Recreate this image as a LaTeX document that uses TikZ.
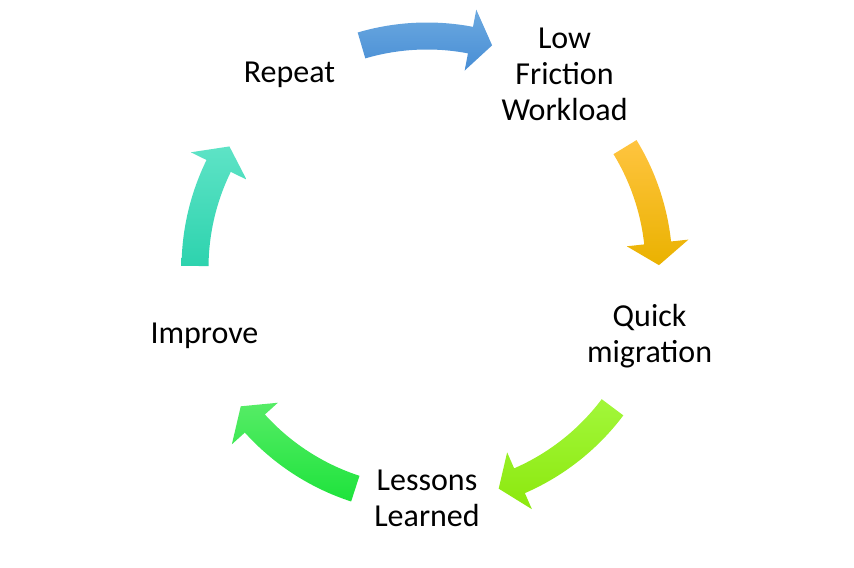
\documentclass[tikz,border=0pt]{standalone}
\usepackage{fontspec}
\setmainfont{Carlito}

\definecolor{blueA}{RGB}{108,169,224}
\definecolor{blueM}{RGB}{92,157,220}
\definecolor{blueB}{RGB}{72,142,213}
\definecolor{goldA}{RGB}{255,196,64}
\definecolor{goldM}{RGB}{255,201,0}
\definecolor{goldB}{RGB}{234,178,0}
\definecolor{limeA}{RGB}{162,247,58}
\definecolor{limeM}{RGB}{150,242,28}
\definecolor{limeB}{RGB}{140,232,14}
\definecolor{greenA}{RGB}{86,236,102}
\definecolor{greenM}{RGB}{44,232,70}
\definecolor{greenB}{RGB}{30,227,60}
\definecolor{tealA}{RGB}{94,227,198}
\definecolor{tealM}{RGB}{70,228,196}
\definecolor{tealB}{RGB}{45,211,174}

% изогнутая стрелка: угол хвоста, угол острия, цвета сверху, в середине, снизу
\newcommand{\cyclearrow}[5]{%
  \pgfmathsetmacro{\headangle}{#2+5.5}
  \shade[top color=#3, middle color=#4, bottom color=#5]
    ([shift={(#1:245.5)}]ring) arc[start angle=#1, end angle=\headangle, radius=245.5bp]
    -- ([shift={(\headangle:263)}]ring) -- ([shift={(#2:232)}]ring)
    -- ([shift={(\headangle:201)}]ring) -- ([shift={(\headangle:218.5)}]ring)
    arc[start angle=\headangle, end angle=#1, radius=218.5bp] -- cycle;
}

\begin{document}
\begin{tikzpicture}[x=1bp, y=1bp, stage/.style={align=center, inner sep=0pt, font=\fontsize{32bp}{36bp}\selectfont}]
\useasboundingbox (0,0) rectangle (854,568);
\coordinate (hub) at (427,304);
\coordinate (ring) at (427,300);

% Этапы
\node (low) at ([shift={(54:234)}]hub) [stage] {Low\\Friction\\Workload};
\node (quick) at ([shift={(-18:234)}]hub) [stage] {Quick\\migration};
\node (lessons) at ([shift={(-90:234)}]hub) [stage] {Lessons\\Learned};
\node (improve) at ([shift={(198:234)}]hub) [stage] {Improve};
\node (repeat) at ([shift={(126:234)}]hub) [stage] {Repeat};

% Стрелки
\cyclearrow{106.4}{73.7}{blueA}{blueM}{blueB}
\cyclearrow{31.4}{0.7}{goldA}{goldM}{goldB}
\cyclearrow{-36.9}{-72}{limeA}{limeM}{limeB}
\cyclearrow{252}{216.6}{greenA}{greenM}{greenB}
\cyclearrow{179.5}{148.4}{tealA}{tealM}{tealB}

\end{tikzpicture}
\end{document}
